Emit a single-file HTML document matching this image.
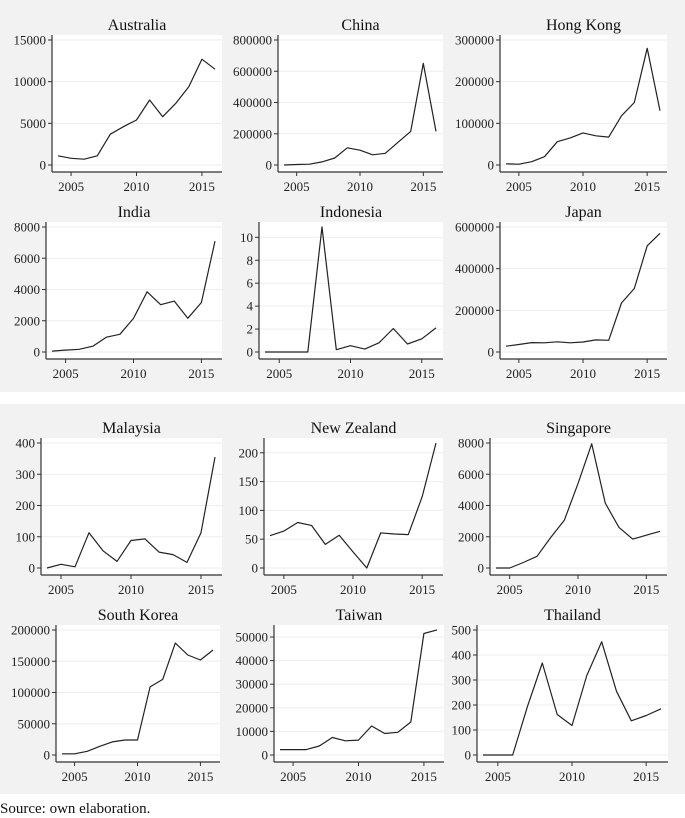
<!DOCTYPE html>
<html><head><meta charset="utf-8"><style>
body{margin:0;background:#fff;width:685px;height:818px;overflow:hidden;font-family:"Liberation Serif","DejaVu Serif",serif}
svg{display:block}
svg text{font-family:"Liberation Serif","DejaVu Serif",serif}
</style></head><body>
<svg id="c" width="685" height="818" xmlns="http://www.w3.org/2000/svg"></svg>
<script>
const years = [2004,2005,2006,2007,2008,2009,2010,2011,2012,2013,2014,2015,2016];
const xTicks = [2005,2010,2015];
const countries = ["Australia","China","Hong Kong","India","Indonesia","Japan","Malaysia","New Zealand","Singapore","South Korea","Taiwan","Thailand"];
const australia = [1100,800,700,1100,3700,4600,5400,7800,5800,7400,9400,12700,11500];
const china = [0,3000,5000,20000,45000,110000,95000,65000,75000,145000,215000,650000,215000];
const hongKong = [3000,2000,8000,20000,56000,65000,77000,70000,67000,118000,150000,280000,130000];
const india = [60,120,170,370,950,1130,2150,3850,3030,3260,2160,3170,7100];
const indonesia = [0,0,0,0,10.9,0.2,0.55,0.25,0.8,2.05,0.7,1.15,2.1];
const japan = [28000,36000,45000,44000,49000,44000,48000,58000,56000,235000,305000,510000,570000];
const malaysia = [0,12,4,113,55,21,88,93,51,43,18,113,355];
const newZealand = [56,64,79,74,41,57,28,0,61,59,58,124,217];
const singapore = [0,0,350,750,1950,3050,5400,7950,4150,2600,1850,2100,2350];
const southKorea = [2000,2000,6000,14000,21000,24000,24000,109000,121000,179000,160000,152000,168000];
const taiwan = [2300,2300,2300,3800,7400,6000,6300,12300,9100,9600,14000,51500,53000];
const thailand = [0,0,0,195,368,162,118,318,453,255,137,158,185];
const series = [australia,china,hongKong,india,indonesia,japan,malaysia,newZealand,singapore,southKorea,taiwan,thailand];
const yTicksList = [
 [0,5000,10000,15000],[0,200000,400000,600000,800000],[0,100000,200000,300000],
 [0,2000,4000,6000,8000],[0,2,4,6,8,10],[0,200000,400000,600000],
 [0,100,200,300,400],[0,50,100,150,200],[0,2000,4000,6000,8000],
 [0,50000,100000,150000,200000],[0,10000,20000,30000,40000,50000],[0,100,200,300,400,500]];
const yMaxList = [15000,800000,300000,8000,10.9,600000,400,217,8000,200000,52966,500];

const NS="http://www.w3.org/2000/svg";
const svg=document.getElementById('c');
function mk(tag,attrs,parent){const e=document.createElementNS(NS,tag);for(const k in attrs)e.setAttribute(k,attrs[k]);(parent||svg).appendChild(e);return e;}

const p1=mk('rect',{x:0,y:0,width:685,height:392,fill:'#f2f2f2'});


const p2=mk('rect',{x:0,y:404,width:685,height:390,fill:'#f2f2f2'});



const axisXs=[52,278,500,46,259,500,41,264,490,56,274,477];
const rights=[222,443,667,222,443,667,222,443,667,220,444,668];
const rowOff=[0,0,0,187,187,187,403,403,403,590,590,590];

for(let i=0;i<12;i++){
  const off=rowOff[i], L=axisXs[i], R=rights[i];
  const top=35+off, y0=165+off, xAxisY=172+off;
  const g=mk('g',{});
  
  
  const bg=mk('rect',{x:L,y:top,width:R-L,height:xAxisY-top,fill:'#fff'},g);
  
  
  const ymax=yMaxList[i];
  const ys=v=>y0-(v/ymax)*(y0-(top+5));
  const xs=yr=>(L+6)+(yr-2004)/12*((R-7)-(L+6));
  const t=mk('text',{x:(L+R)/2,y:top-5,'text-anchor':'middle','font-size':16,fill:'#111'},g);
  t.textContent=countries[i];
  
  
  for(const v of yTicksList[i]){
    const y=ys(v);
    const gl=mk('line',{x1:L,x2:R,y1:y,y2:y,stroke:'#eeeeee','stroke-width':1},g);
    
    
    mk('line',{x1:L-4,x2:L,y1:y,y2:y,stroke:'#333','stroke-width':1},g);
    const lb=mk('text',{x:L-6,y:y+4.5,'text-anchor':'end','font-size':13,fill:'#222'},g);
    lb.textContent=String(v);
    
    
  }
  for(const yr of xTicks){
    const x=xs(yr);
    mk('line',{x1:x,x2:x,y1:xAxisY,y2:xAxisY+4,stroke:'#333','stroke-width':1},g);
    const lb=mk('text',{x:x,y:xAxisY+19,'text-anchor':'middle','font-size':13,fill:'#222'},g);
    lb.textContent=String(yr);
    
    
  }
  const ya=mk('line',{x1:L,x2:L,y1:top,y2:xAxisY,stroke:'#333','stroke-width':1.2},g);
  
  
  const xa=mk('line',{x1:L,x2:R,y1:xAxisY,y2:xAxisY,stroke:'#333','stroke-width':1.2},g);
  
  
  const pts=series[i].map((v,k)=>xs(years[k]).toFixed(1)+','+ys(v).toFixed(1)).join(' ');
  const pl=mk('polyline',{points:pts,fill:'none',stroke:'#222','stroke-width':1.2,'stroke-linejoin':'round'},g);
  
  
}
const src=mk('text',{x:0,y:813,'font-size':15,fill:'#111'});
src.textContent='Source: own elaboration.';


</script>
</body></html>
